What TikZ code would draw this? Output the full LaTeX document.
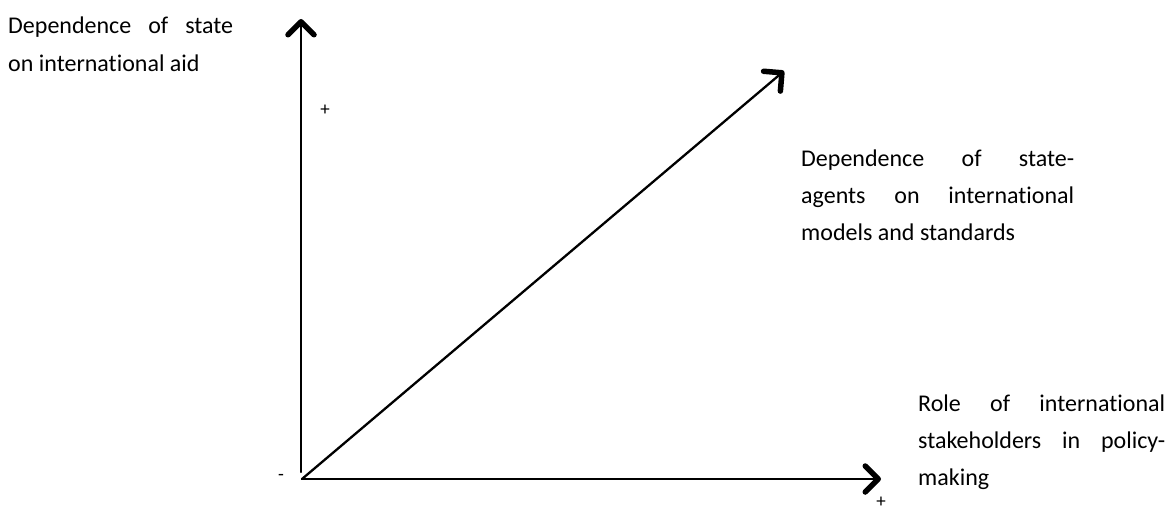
\documentclass[tikz,border=0pt]{standalone}
\usepackage{fontspec}
\setmainfont{Carlito}[Ligatures={NoCommon}]
\usetikzlibrary{arrows.meta}
\begin{document}
\begin{tikzpicture}[x=1pt,y=-1pt,
  axis/.style={line width=2.3pt,line cap=round,-{Straight Barb[length=13pt,width=26pt,line width=5.5pt,round]}},
  lbl/.style={font=\fontsize{24}{37}\selectfont,inner sep=0pt,align=left,anchor=base west},
  sign/.style={font=\fontsize{19}{22}\selectfont,inner sep=0pt}]
\fill[white] (0,0) rectangle (1173,511);
\useasboundingbox (0,0) rectangle (1173,511);
\coordinate (O) at (302,479);
\coordinate (Ybot) at (301,472);
\coordinate (Ytop) at (301,19);
\coordinate (Xtip) at (881,479);
\coordinate (Dtip) at (784,71);
\draw[axis] (Ybot) -- (Ytop);
\draw[axis] (O) -- (Xtip);
\draw[axis] (O) -- (Dtip);
\node[lbl] (ylab) at (8,71) {\makebox[225pt][s]{Dependence of state}\\on international aid};
\node[lbl] (dlab) at (801,240) {\makebox[273pt][s]{Dependence of state-}\\\makebox[273pt][s]{agents on international}\\models and standards};
\node[lbl] (xlab) at (918,485) {\makebox[247pt][s]{Role of international}\\\makebox[247pt][s]{stakeholders in policy-}\\making};
\node[sign] (yplus) at (325,110) {+};
\node[sign] (xplus) at (881,502) {+};
\node[sign] (minus) at (281,477) {-};
\end{tikzpicture}
\end{document}
